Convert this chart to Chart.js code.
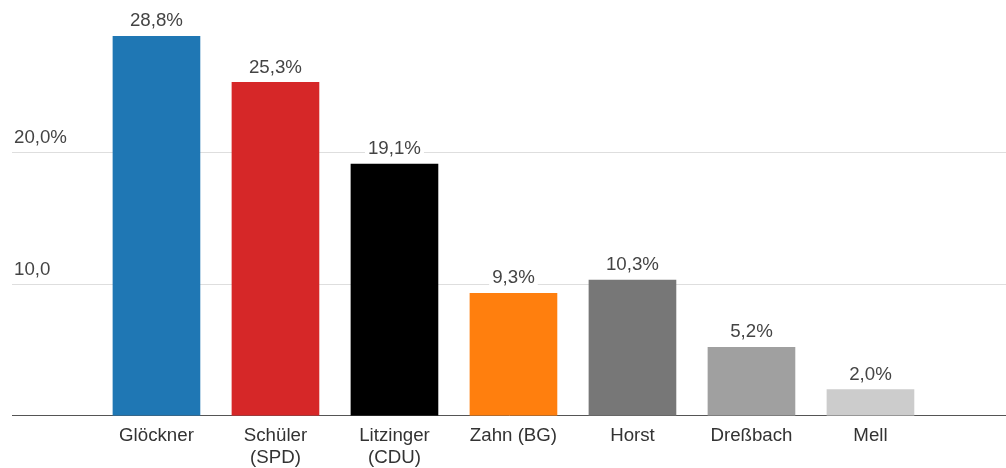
<!DOCTYPE html>
<html>
<head>
<meta charset="utf-8">
<script src="https://cdn.jsdelivr.net/npm/chart.js@4"></script>
<style>
  body { margin: 0; background: #fff; }
  #wrap { width: 1006px; height: 468px; position: relative; }
</style>
</head>
<body>
<div id="wrap"><canvas id="grafico"></canvas></div>
<script>
// Kandidaten und Ergebnisse
const kandidaten = ["Glöckner", ["Schüler", "(SPD)"], ["Litzinger", "(CDU)"], "Zahn (BG)", "Horst", "Dreßbach", "Mell"];
const ergebnisse = [28.8, 25.3, 19.1, 9.3, 10.3, 5.2, 2.0];
const farben = ["#1f77b4", "#d62728", "#000000", "#ff7f0e", "#777777", "#a0a0a0", "#cccccc"];
const yTickTexte = { 10: "10,0", 20: "20,0%" };

const schrift = "'Liberation Sans', Arial, sans-serif";
const groesse = 18.7;

const wertBeschriftung = {
    id: "wertBeschriftung",
    afterDatasetsDraw(chart) {
        const ctx = chart.ctx;
        const meta = chart.getDatasetMeta(0);
        ctx.save();
        ctx.font = groesse + "px " + schrift;
        ctx.textAlign = "center";
        ctx.textBaseline = "middle";
        meta.data.forEach((bar, i) => {
            const text = ergebnisse[i].toFixed(1).replace(".", ",") + "%";
            const y = bar.y - 15;
            const w = ctx.measureText(text).width;
            ctx.fillStyle = "#fff";
            ctx.fillRect(bar.x - w / 2 - 3, y - 9, w + 6, 18);
            ctx.fillStyle = "#444";
            ctx.fillText(text, bar.x, y);
        });
        ctx.restore();
    }
};

const ctx = document.getElementById("grafico").getContext("2d");
new Chart(ctx, {
    type: "bar",
    data: {
        datasets: [{
            data: ergebnisse.map((v, i) => ({ x: i, y: v })),
            backgroundColor: farben,
            barThickness: 87
        }]
    },
    options: {
        responsive: true,
        maintainAspectRatio: false,
        animation: false,
        layout: { padding: { left: 8, right: 0, top: 20.5, bottom: -10 } },
        plugins: { legend: { display: false }, tooltip: { enabled: false } },
        scales: {
            x: {
                type: "linear",
                offset: false,
                min: -1.214,
                max: 7.139,
                afterBuildTicks: (scale) => {
                    scale.ticks = kandidaten.map((k, i) => ({ value: i }));
                },
                grid: { display: false, drawTicks: false },
                border: { display: true, color: "#555", width: 1 },
                ticks: {
                    autoSkip: false,
                    maxRotation: 0,
                    padding: 9,
                    color: "#333",
                    font: { family: schrift, size: groesse, lineHeight: 1.18 },
                    callback: (v) => kandidaten[v]
                }
            },
            y: {
                min: 0,
                max: 30,
                border: { display: false },
                grid: {
                    drawTicks: false,
                    color: (c) => (c.tick.value === 10 || c.tick.value === 20) ? "#dedede" : "rgba(0,0,0,0)"
                },
                ticks: {
                    stepSize: 10,
                    mirror: true,
                    padding: 2,
                    labelOffset: -14,
                    color: "#444",
                    font: { family: schrift, size: groesse },
                    callback: (v) => yTickTexte[v] || ""
                }
            }
        }
    },
    plugins: [wertBeschriftung]
});
</script>
</body>
</html>
